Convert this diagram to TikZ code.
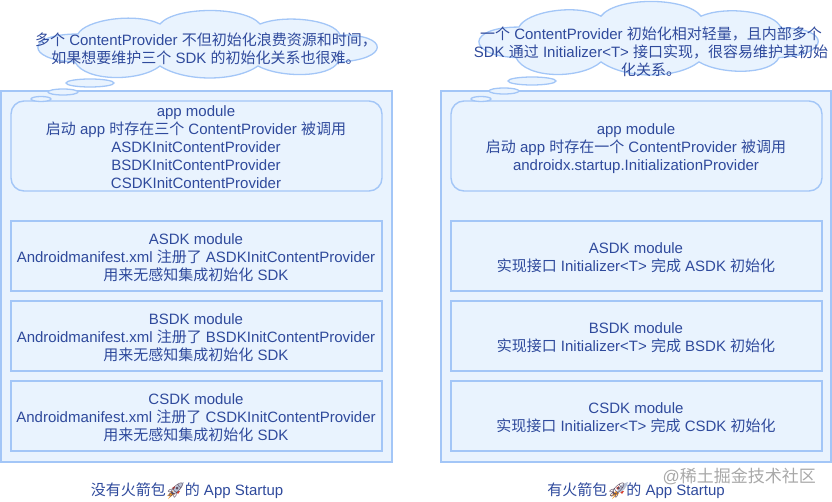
\documentclass[tikz,border=0pt]{standalone}
\usepackage{fontspec}
\setmainfont{Liberation Sans}
\newfontfamily\cjk{Noto Sans CJK SC}
\newfontfamily\emo{Noto Emoji}
\newcommand\Z[1]{{\cjk #1}}
\newcommand\Rk{{\emo\textcolor{rocketc}{\char"1F680}}}
\definecolor{edgec}{HTML}{A3C6F7}
\definecolor{fillc}{HTML}{E9F3FE}
\definecolor{textc}{HTML}{2F4A9C}
\definecolor{rocketc}{HTML}{5A4A60}
\definecolor{markc}{HTML}{A8A8A8}
\definecolor{flamec}{HTML}{F59A23}
\definecolor{finc}{HTML}{D8402F}
\definecolor{hullc}{HTML}{B9C3D6}
\tikzset{
  x=1pt,y=-1pt,
  outerbox/.style={draw=edgec,line width=1.4pt,fill=fillc},
  modbox/.style={draw=edgec,line width=1.4pt,fill=fillc},
  roundbox/.style={draw=edgec,line width=1.4pt,fill=fillc,rounded corners=13pt},
  cloudshape/.style={draw=edgec,line width=1.3pt,fill=fillc},
  bubble/.style={draw=edgec,line width=1.3pt,fill=fillc},
  txt/.style={text=textc,align=center,font=\fontsize{15}{18}\selectfont,inner sep=0pt},
  wmark/.style={text=markc,font=\fontsize{17}{18}\selectfont,inner sep=0pt},
}
\newcommand\cloudpath{
  (78,34) .. controls (85,20) and (135,12) .. (160,24)
  .. controls (175,6) and (245,6) .. (260,24)
  .. controls (285,14) and (335,20) .. (340,35)
  .. controls (390,34) and (390,60) .. (338,62)
  .. controls (330,78) and (280,78) .. (258,66)
  .. controls (235,82) and (185,82) .. (160,66)
  .. controls (140,82) and (85,82) .. (75,62)
  .. controls (25,60) and (25,34) .. (78,34) -- cycle
}
% colours under the outline of the rocket glyph; (0,0) is the middle of the glyph
\newcommand\rocketcolours[2]{
  \begin{scope}[shift={(#1,#2)}]
    \fill[flamec] (-3,2) -- (-8,9) -- (-2,4) -- cycle;
    \fill[flamec] (-4,1) -- (-9,6) -- (-1,4) -- cycle;
    \fill[finc] (-4,-2) -- (-1,-4) -- (-1,1) -- cycle;
    \fill[finc] (2,4) -- (4,1) -- (-1,1) -- cycle;
    \fill[hullc] (-3,3) .. controls (-2,-4) and (2,-6) .. (8,-8)
      .. controls (6,-2) and (4,2) .. (-3,3) -- cycle;
  \end{scope}
}
\begin{document}
\begin{tikzpicture}
\useasboundingbox (0,0) rectangle (832,502);
% left column
\path[outerbox] (1,91) rectangle (392,462);
\path[roundbox] (11,101) rectangle (382,191);
\path[modbox] (11,221) rectangle (382,291);
\path[modbox] (11,301) rectangle (382,371);
\path[modbox] (11,381) rectangle (382,451);
\path[cloudshape] \cloudpath;
\path[bubble] (90,83) ellipse [x radius=24,y radius=4];
\path[bubble] (63,92) ellipse [x radius=15,y radius=3];
\path[bubble] (41,99) ellipse [x radius=10,y radius=2.5];
\node[txt] (lc) at (206,48.5) {\Z{多个} ContentProvider \Z{不但初始化浪费资源和时间，}\\\Z{如果想要维护三个} SDK \Z{的初始化关系也很难。}};
\node[txt] (la) at (196,147) {app module\\\Z{启动} app \Z{时存在三个} ContentProvider \Z{被调用}\\ASDKInitContentProvider\\BSDKInitContentProvider\\CSDKInitContentProvider};
\node[txt] (l1) at (196,258) {ASDK module\\Androidmanifest.xml \Z{注册了} ASDKInitContentProvider\\\Z{用来无感知集成初始化} SDK};
\node[txt] (l2) at (196,338) {BSDK module\\Androidmanifest.xml \Z{注册了} BSDKInitContentProvider\\\Z{用来无感知集成初始化} SDK};
\node[txt] (l3) at (196,418) {CSDK module\\Androidmanifest.xml \Z{注册了} CSDKInitContentProvider\\\Z{用来无感知集成初始化} SDK};
\rocketcolours{176}{490}
\node[txt] (lt) at (187,491) {\Z{没有火箭包}\Rk\Z{的} App Startup};
% right column
\path[outerbox] (441,91) rectangle (831,462);
\path[roundbox] (451,101) rectangle (822,191);
\path[modbox] (451,221) rectangle (822,291);
\path[modbox] (451,301) rectangle (822,371);
\path[modbox] (451,381) rectangle (822,451);
\begin{scope}[shift={(441,-10)},yscale=1.09]
\path[cloudshape] \cloudpath;
\end{scope}
\path[bubble] (532,81) ellipse [x radius=24,y radius=4];
\path[bubble] (504,91) ellipse [x radius=15,y radius=3];
\path[bubble] (481,99) ellipse [x radius=10,y radius=2.5];
\node[txt] (rc) at (651,52) {\Z{一个} ContentProvider \Z{初始化相对轻量，且内部多个}\\SDK \Z{通过} Initializer<T> \Z{接口实现，很容易维护其初始}\\\Z{化关系。}};
\node[txt] (ra) at (636,148.5) {app module\\\Z{启动} app \Z{时存在一个} ContentProvider \Z{被调用}\\androidx.startup.InitializationProvider};
\node[txt] (r1) at (636,258) {ASDK module\\\Z{实现接口} Initializer<T> \Z{完成} ASDK \Z{初始化}};
\node[txt] (r2) at (636,338) {BSDK module\\\Z{实现接口} Initializer<T> \Z{完成} BSDK \Z{初始化}};
\node[txt] (r3) at (636,418) {CSDK module\\\Z{实现接口} Initializer<T> \Z{完成} CSDK \Z{初始化}};
\rocketcolours{620}{490}
\node[txt] (rt) at (636,491) {\Z{有火箭包}\Rk\Z{的} App Startup};
\node[wmark,anchor=east] (wm) at (816,476) {@\Z{稀土掘金技术社区}};
\end{tikzpicture}
\end{document}
